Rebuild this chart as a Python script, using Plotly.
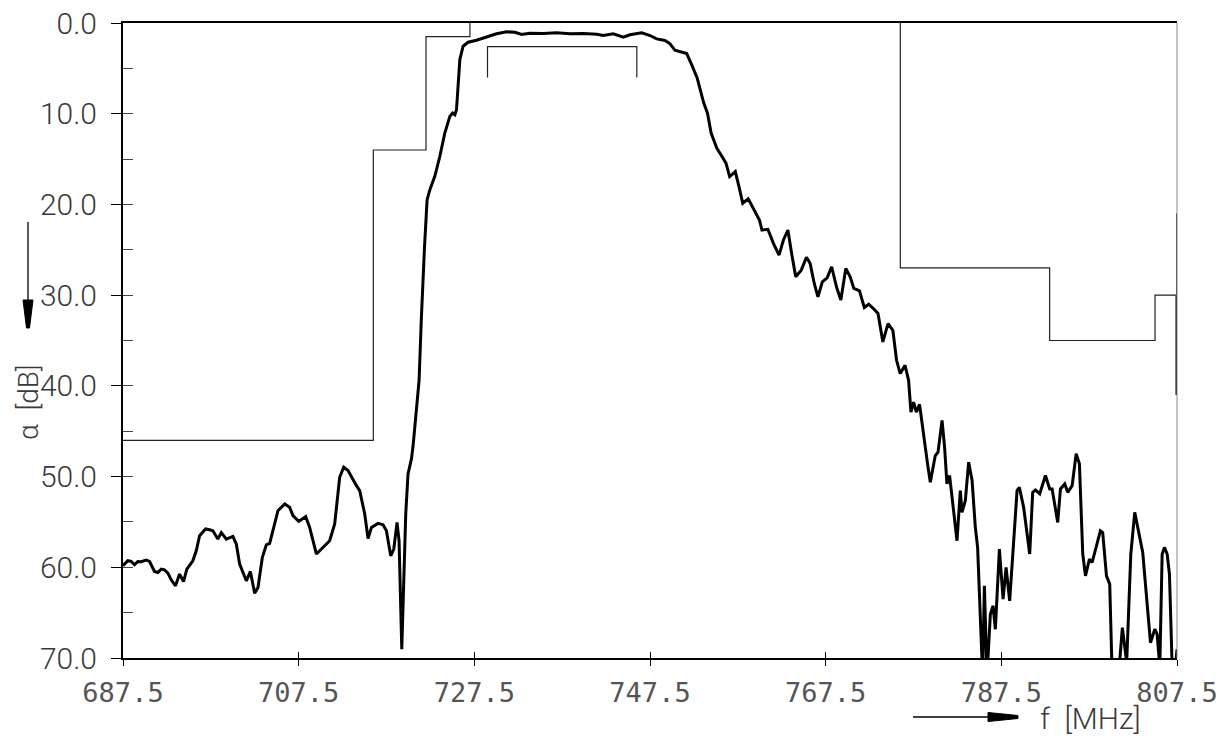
import plotly.graph_objects as go

# ---------------- data ----------------
freq = [687.5, 688.05, 688.43, 688.81, 689.19, 689.57, 690.14, 690.52, 691.09, 691.47,
        691.85, 692.23, 692.61, 692.99, 693.48, 693.94, 694.39, 694.77, 695.45, 695.84,
        696.22, 696.90, 697.36, 697.73, 698.30, 698.69, 699.26, 700.01, 700.40, 700.78,
        701.54, 702.00, 702.49, 702.87, 703.36, 703.82, 704.20, 705.14, 705.91, 706.47,
        706.85, 707.50, 708.30, 708.75, 709.52, 710.09, 711.03, 711.60, 712.17, 712.63,
        713.12, 714.08, 714.45, 715.02, 715.40, 715.79, 716.54, 717.11, 717.49, 717.98,
        718.33, 718.70, 718.93, 719.24, 719.47, 719.69, 719.95, 720.34, 720.53, 721.21,
        721.46, 721.63, 721.82, 722.12, 722.43, 722.99, 723.57, 724.14, 724.71, 725.02,
        725.28, 725.47, 725.65, 725.85, 726.22, 726.79, 727.75, 728.89, 730.03, 731.17,
        732.12, 732.88, 733.83, 735.34, 736.87, 738.38, 739.90, 741.43, 742.18, 743.32,
        744.46, 745.22, 746.56, 747.50, 748.26, 749.21, 749.78, 750.35, 751.11, 751.68,
        752.29, 752.86, 753.62, 754.04, 754.46, 755.10, 755.73, 756.15, 756.57, 757.21,
        757.63, 758.06, 758.68, 759.32, 759.96, 760.25, 760.92, 761.55, 762.19, 762.69,
        763.20, 763.62, 764.09, 764.72, 765.31, 765.73, 766.20, 766.62, 767.12, 767.67,
        768.18, 768.73, 769.23, 769.79, 770.29, 770.71, 771.35, 771.90, 772.40, 773.04,
        773.46, 774.01, 774.60, 775.15, 775.57, 775.99, 776.54, 776.94, 777.21, 777.51,
        777.82, 778.19, 778.65, 779.10, 779.41, 779.98, 780.29, 780.75, 781.04, 781.31,
        781.61, 782.07, 782.45, 782.83, 783.02, 783.40, 783.78, 784.17, 784.54, 784.80,
        785.11, 785.37, 785.57, 785.87, 786.25, 786.56, 786.82, 787.28, 787.70, 788.04,
        788.45, 788.90, 789.29, 789.55, 790.04, 790.73, 791.07, 791.38, 791.87, 792.52,
        793.01, 793.28, 793.92, 794.23, 794.72, 795.06, 795.56, 796.02, 796.39, 796.77,
        797.08, 797.53, 797.84, 798.78, 799.04, 799.47, 799.84, 800.12, 800.84, 801.28,
        801.77, 802.24, 802.69, 803.60, 804.48, 804.97, 805.24, 805.54, 805.81, 806.07,
        806.38, 806.64, 806.95, 807.33, 807.5]

attenuation = [59.83, 59.28, 59.36, 59.72, 59.36, 59.39, 59.20, 59.36, 60.46, 60.57,
               60.20, 60.28, 60.64, 61.38, 62.05, 60.75, 61.57, 60.20, 59.28, 58.18,
               56.52, 55.78, 55.86, 55.97, 56.89, 56.16, 56.89, 56.60, 57.44, 59.65,
               61.49, 60.46, 62.85, 62.23, 58.92, 57.52, 57.37, 53.76, 53.02, 53.39,
               54.31, 54.94, 54.42, 55.60, 58.54, 57.99, 57.07, 55.23, 50.08, 48.97,
               49.34, 51.00, 51.55, 54.12, 56.82, 55.60, 55.16, 55.31, 55.97, 58.73,
               57.99, 55.05, 57.07, 69.04, 60.02, 54.12, 49.70, 48.05, 46.58, 39.39,
               32.76, 28.34, 24.84, 19.50, 18.40, 16.93, 14.72, 12.13, 10.30, 9.92,
               10.11, 9.56, 6.98, 4.03, 2.56, 2.12, 1.90, 1.57, 1.19, 0.97,
               1.02, 1.27, 1.13, 1.16, 1.08, 1.19, 1.16, 1.24, 1.38, 1.19,
               1.57, 1.30, 1.08, 1.38, 1.75, 1.93, 2.30, 3.01, 3.23, 3.37,
               4.70, 6.02, 8.82, 9.92, 12.13, 13.79, 14.78, 15.45, 16.93, 16.38,
               18.03, 19.87, 19.39, 20.61, 21.71, 22.82, 22.74, 24.29, 25.58, 23.92,
               22.82, 25.39, 27.98, 27.24, 25.83, 26.50, 28.71, 30.19, 28.53, 28.09,
               26.87, 29.08, 30.55, 27.05, 27.98, 29.26, 29.53, 31.36, 31.00, 31.58,
               32.02, 35.16, 33.13, 33.87, 37.18, 38.65, 37.74, 39.39, 42.90, 41.79,
               42.90, 42.05, 45.66, 48.60, 50.63, 47.68, 47.31, 43.81, 46.76, 50.81,
               49.89, 54.12, 57.07, 51.55, 53.95, 52.65, 48.42, 50.44, 55.60, 57.81,
               65.91, 72.0, 62.05, 72.0, 65.17, 64.25, 66.83, 57.99, 63.51, 60.02,
               63.70, 57.07, 51.55, 51.18, 53.39, 58.54, 51.74, 51.47, 51.91, 49.89,
               51.36, 51.36, 55.05, 51.36, 50.81, 51.74, 51.00, 47.49, 48.60, 58.54,
               60.94, 59.10, 59.47, 55.97, 56.16, 60.94, 61.86, 72.0, 72.0, 66.65,
               70.5, 58.54, 53.95, 58.37, 68.31, 66.83, 67.38, 71.0, 58.54, 57.81,
               58.54, 60.75, 71.0, 71.0, 69.04]

# tolerance masks
left_mask_f = [687.5, 716.0, 716.0, 722.0, 722.0, 727.0, 727.0]
left_mask_db = [46.0, 46.0, 14.0, 14.0, 1.5, 1.5, 0.0]
pass_mask_f = [729.0, 729.0, 746.0, 746.0]
pass_mask_db = [6.0, 2.6, 2.6, 6.0]
right_mask_f = [776.0, 776.0, 793.0, 793.0, 805.0, 805.0, 807.5]
right_mask_db = [0.0, 27.0, 27.0, 35.0, 35.0, 30.0, 30.0]
edge_thin_f = [807.5, 807.5]
edge_thin_db = [21.0, 30.0]
edge_thick_f = [807.5, 807.5]
edge_thick_db = [30.0, 41.0]

x_ticks = [687.5, 707.5, 727.5, 747.5, 767.5, 787.5, 807.5]
x_labels = ["687.5", "707.5", "727.5", "747.5", "767.5", "787.5", "807.5"]
y_ticks = [0, 10, 20, 30, 40, 50, 60, 70]
y_labels = ["0.0", "10.0", "20.0", "30.0", "40.0", "50.0", "60.0", "70.0"]
y_minor = [0, 5, 10, 15, 20, 25, 30, 35, 40, 45, 50, 55, 60, 65, 70]

# ---------------- layout geometry ----------------
# The page body adds an 8 px offset; the figure is sized to fit the window.
OFF = 8
W, H = 1231 - OFF, 738 - OFF
ML, MT = 123 - OFF, 23 - OFF
MR = W - (1177 - OFF)
MB = H - (658 - OFF)
PW, PH = W - ML - MR, H - MT - MB


def P(px, py):
    """page pixel -> paper coordinates"""
    fx, fy = px - OFF, py - OFF
    return (fx - ML) / PW, (H - MB - fy) / PH


TXT = "#3a3a3a"
fig = go.Figure()

mask_line = dict(color="#222222", width=1.2)
fig.add_trace(go.Scatter(x=left_mask_f, y=left_mask_db, mode="lines", line=mask_line,
                         xaxis="x2", yaxis="y2", hoverinfo="skip"))
fig.add_trace(go.Scatter(x=pass_mask_f, y=pass_mask_db, mode="lines", line=mask_line,
                         xaxis="x2", yaxis="y2", hoverinfo="skip"))
fig.add_trace(go.Scatter(x=right_mask_f, y=right_mask_db, mode="lines", line=mask_line,
                         xaxis="x2", yaxis="y2", hoverinfo="skip"))
fig.add_trace(go.Scatter(x=edge_thin_f, y=edge_thin_db, mode="lines",
                         line=dict(color="black", width=1.6), hoverinfo="skip"))
fig.add_trace(go.Scatter(x=edge_thick_f, y=edge_thick_db, mode="lines",
                         line=dict(color="black", width=3), hoverinfo="skip"))
fig.add_trace(go.Scatter(x=freq, y=attenuation, mode="lines",
                         line=dict(color="black", width=3), hoverinfo="skip"))

xr = [687.5, 807.5]
yr = [70, 0]

fig.update_layout(
    width=W, height=H,
    margin=dict(l=ML, r=MR, t=MT, b=MB, pad=0),
    paper_bgcolor="white", plot_bgcolor="white",
    showlegend=False,
    xaxis=dict(range=xr, tickmode="array", tickvals=x_ticks, ticktext=x_labels,
               ticks="outside", ticklen=6, tickwidth=1.3, tickcolor="black",
               showline=True, linecolor="black", linewidth=2, mirror=True,
               showgrid=False, zeroline=False, automargin=False,
               ticklabelstandoff=4, ticklabeloverflow="allow",
               tickfont=dict(family="DejaVu Sans Mono", size=27, color="#555555")),
    yaxis=dict(range=yr, tickmode="array", tickvals=y_ticks, ticktext=y_labels,
               ticks="outside", ticklen=10, tickwidth=1.3, tickcolor="black",
               showline=True, linecolor="black", linewidth=2,
               showgrid=False, zeroline=False, automargin=False,
               ticklabelstandoff=8, ticklabeloverflow="allow",
               tickfont=dict(family="Roboto", size=30, color=TXT, weight=300)),
    xaxis2=dict(range=xr, overlaying="x", anchor="y", side="bottom",
                tickmode="array", tickvals=x_ticks, ticks="inside", ticklen=6,
                tickwidth=1.3, tickcolor="black", showticklabels=False, automargin=False,
                showline=False, showgrid=False, zeroline=False),
    yaxis2=dict(range=yr, overlaying="y", anchor="x", side="left",
                tickmode="array", tickvals=y_minor, ticks="inside", ticklen=10,
                tickwidth=1.3, tickcolor="#444444", showticklabels=False, automargin=False,
                showline=False, showgrid=False, zeroline=False),
)

# right frame edge (thin)
fig.add_shape(type="line", xref="paper", yref="paper", x0=1, x1=1, y0=0, y1=1,
              line=dict(color="#888888", width=1))

# axis titles as text
ax_x, ax_y = P(28, 402)
fig.add_annotation(xref="paper", yref="paper", x=ax_x, y=ax_y, text="α  [dB]",
                   textangle=-90, showarrow=False, xanchor="center", yanchor="middle",
                   font=dict(family="Roboto", size=28, color=TXT, weight=300))
fx, fy = P(1090, 718)
fig.add_annotation(xref="paper", yref="paper", x=fx, y=fy, text="f  [MHz]",
                   showarrow=False, xanchor="center", yanchor="middle",
                   font=dict(family="Roboto", size=30, color=TXT, weight=300))

# direction arrows
a0 = P(28, 222); a1 = P(28, 302)
fig.add_shape(type="line", xref="paper", yref="paper", x0=a0[0], y0=a0[1], x1=a1[0], y1=a1[1],
              line=dict(color="black", width=1.3))
pts = [P(23, 300), P(33, 300), P(29.5, 328), P(26.5, 328)]
path = "M " + " L ".join(f"{p[0]},{p[1]}" for p in pts) + " Z"
fig.add_shape(type="path", xref="paper", yref="paper", path=path,
              fillcolor="black", line=dict(color="black", width=1))

b0 = P(913, 717); b1 = P(990, 717)
fig.add_shape(type="line", xref="paper", yref="paper", x0=b0[0], y0=b0[1], x1=b1[0], y1=b1[1],
              line=dict(color="black", width=1.3))
pts = [P(988, 712.5), P(988, 721.5), P(1018, 718.5), P(1018, 715.5)]
path = "M " + " L ".join(f"{p[0]},{p[1]}" for p in pts) + " Z"
fig.add_shape(type="path", xref="paper", yref="paper", path=path,
              fillcolor="black", line=dict(color="black", width=1))

fig.write_html("out.html")
